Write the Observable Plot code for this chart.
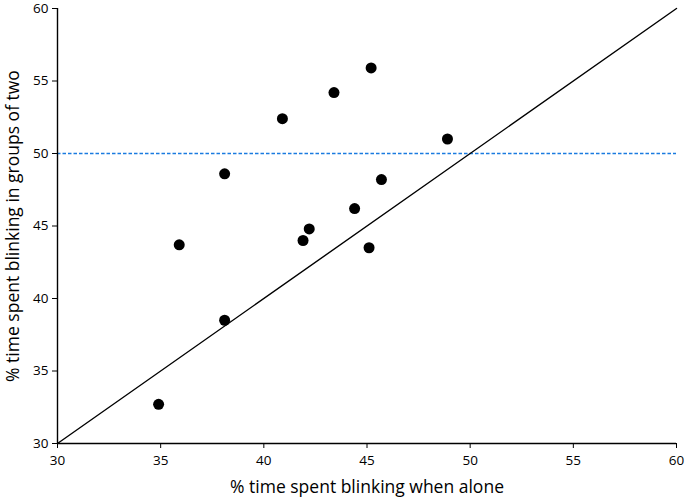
<!DOCTYPE html>
<html>
<head>
<meta charset="utf-8">
<script src="https://cdn.jsdelivr.net/npm/d3@7"></script>
<script src="https://cdn.jsdelivr.net/npm/@observablehq/plot@0.6"></script>
<style>
  html, body { margin: 0; padding: 0; background: #fff; }
  svg { display: block; }
</style>
</head>
<body>
<div id="chart"></div>
<script>
const alone =  [40.9, 43.4, 45.2, 38.1, 48.9, 35.9, 45.7, 44.4, 42.2, 41.9, 45.1, 38.1, 34.9];
const groups = [52.4, 54.2, 55.9, 48.6, 51.0, 43.7, 48.2, 46.2, 44.8, 44.0, 43.5, 38.5, 32.7];
const ticks = [30, 35, 40, 45, 50, 55, 60];
const identity = [30, 60];
const threshold = [50];

const data = alone.map((a, i) => ({alone: a, groups: groups[i]}));
const diag = identity.map(v => ({x: v, y: v}));

const font = "Open Sans, Liberation Sans, sans-serif";

const chart = Plot.plot({
  width: 686,
  height: 501,
  marginLeft: 57,
  marginRight: 10,
  marginTop: 8,
  marginBottom: 58,
  style: {fontFamily: font, fontSize: "13.5px", color: "#000", background: "#fff"},
  x: {domain: [30, 60], ticks: ticks},
  y: {domain: [30, 60], ticks: ticks},
  marks: [
    Plot.ruleY(threshold, {stroke: "#1a7be0", strokeWidth: 1.4, strokeDasharray: "3.5,2"}),
    Plot.line(diag, {x: "x", y: "y", stroke: "#000", strokeWidth: 1.4}),
    Plot.dot(data, {x: "alone", y: "groups", r: 5.5, fill: "#000", stroke: "none"}),
    Plot.ruleX([30], {stroke: "#000", strokeWidth: 1.4}),
    Plot.ruleY([30], {stroke: "#000", strokeWidth: 1.4}),
    Plot.axisX({ticks: ticks, tickSize: 5, tickPadding: 7, label: null, fontSize: 13.5}),
    Plot.axisY({ticks: ticks, tickSize: 5, tickPadding: 4, label: null, fontSize: 13.5}),
    Plot.text(["% time spent blinking when alone"], {
      frameAnchor: "bottom", dy: 49, fontSize: 17.5, fill: "#000"
    }),
    Plot.text(["% time spent blinking in groups of two"], {
      frameAnchor: "left", textAnchor: "middle", dx: -44, rotate: -90, fontSize: 17.5, fill: "#000"
    })
  ]
});
document.getElementById("chart").append(chart);
</script>
</body>
</html>
